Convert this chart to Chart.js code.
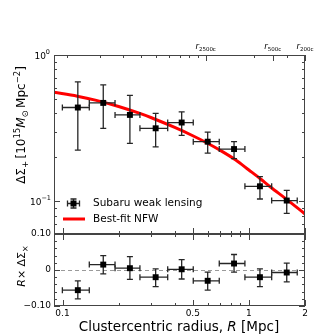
<!DOCTYPE html>
<html>
<head>
<meta charset="utf-8">
<script src="https://cdn.jsdelivr.net/npm/chart.js@4.4.1/dist/chart.umd.min.js"></script>
<style>
body { margin: 0; background: #fff; }
#wrap { position: relative; width: 329px; height: 336px; }
canvas { position: absolute; left: 0; top: 0; }
</style>
</head>
<body>
<div id="wrap">
  <canvas id="topChart" width="329" height="336"></canvas>
  <canvas id="botChart" width="329" height="336"></canvas>
</div>
<script>
// radial bins (Mpc)
var radius   = [0.1208, 0.1654, 0.2299, 0.3160, 0.4358, 0.6010, 0.8324, 1.146, 1.596];
var radiusLo = [0.0998, 0.1392, 0.1913, 0.2602, 0.3667, 0.5029, 0.6934, 0.952, 1.325];
var radiusHi = [0.1392, 0.1913, 0.2602, 0.3667, 0.5029, 0.6934, 0.952, 1.325, 1.817];

// tangential shear profile
var sigmaT   = [0.438, 0.471, 0.390, 0.316, 0.346, 0.256, 0.228, 0.127, 0.1015];
var sigmaTLo = [0.224, 0.316, 0.249, 0.236, 0.283, 0.214, 0.196, 0.104, 0.083];
var sigmaTHi = [0.656, 0.626, 0.530, 0.399, 0.409, 0.298, 0.256, 0.148, 0.119];

// cross shear (R x dSigma_x)
var sigmaX   = [-0.056, 0.015, 0.005, -0.020, 0.002, -0.030, 0.018, -0.020, -0.007];
var sigmaXLo = [-0.080, -0.011, -0.026, -0.046, -0.025, -0.056, -0.006, -0.046, -0.033];
var sigmaXHi = [-0.030, 0.040, 0.037, 0.003, 0.029, -0.006, 0.043, 0.003, 0.019];

// best-fit NFW curve
var nfwR     = [0.09, 0.12, 0.15, 0.2, 0.26, 0.3, 0.4, 0.5, 0.6, 0.7, 0.85, 1.0, 1.15, 1.3, 1.6, 2.0];
var nfwSigma = [0.556, 0.523, 0.492, 0.445, 0.399, 0.373, 0.320, 0.281, 0.250, 0.224, 0.192, 0.164, 0.143, 0.126, 0.103, 0.0822];

// axes
var xTicks = [0.1, 0.5, 1, 2];
var xTickLabels = ['0.1', '0.5', '1', '2'];
var xMinor = [0.2, 0.3, 0.4, 0.6, 0.7, 0.8, 0.9];
var topMinor = [0.106, 0.159, 0.212, 0.265, 0.318, 0.371, 0.425, 0.478, 0.531, 1.062, 1.593];
var rDelta = [0.586, 1.341, 2.0];
var rDeltaLabels = ['2500c', '500c', '200c'];
var yMinorTop = [0.06, 0.07, 0.08, 0.09, 0.2, 0.3, 0.4, 0.5, 0.6, 0.7, 0.8, 0.9];
var yMinorBot = [-0.08, -0.06, -0.04, -0.02, 0.02, 0.04, 0.06, 0.08];

var FONT = '"DejaVu Sans"';
var frameColor = '#444';

function tickMarks(chart, axis, vals, len, sides) {
    var ctx = chart.ctx, a = chart.chartArea, s = chart.scales[axis];
    ctx.beginPath();
    vals.forEach(function (v) {
        var p = Math.round(s.getPixelForValue(v)) + 0.5;
        if (axis === 'x') {
            if (sides.indexOf('b') >= 0) { ctx.moveTo(p, a.bottom); ctx.lineTo(p, a.bottom - len); }
            if (sides.indexOf('t') >= 0) { ctx.moveTo(p, a.top); ctx.lineTo(p, a.top + len); }
        } else {
            if (sides.indexOf('l') >= 0) { ctx.moveTo(a.left, p); ctx.lineTo(a.left + len, p); }
            if (sides.indexOf('r') >= 0) { ctx.moveTo(a.right, p); ctx.lineTo(a.right - len, p); }
        }
    });
    ctx.stroke();
}

function frame(chart) {
    var ctx = chart.ctx, a = chart.chartArea;
    ctx.strokeStyle = frameColor;
    ctx.lineWidth = 1;
    ctx.strokeRect(a.left + 0.5, a.top + 0.5, a.right - a.left - 1, a.bottom - a.top - 1);
}

// parts: [text, size, dy, italic]
function drawRich(ctx, parts, x, y, align) {
    var w = 0;
    parts.forEach(function (p) {
        ctx.font = (p[3] ? 'italic ' : '') + p[1] + 'px ' + FONT;
        p.w = ctx.measureText(p[0]).width;
        w += p.w;
    });
    var cx = align === 'right' ? x - w : (align === 'center' ? x - w / 2 : x);
    ctx.textAlign = 'left';
    parts.forEach(function (p) {
        ctx.font = (p[3] ? 'italic ' : '') + p[1] + 'px ' + FONT;
        ctx.fillText(p[0], cx, y + p[2]);
        cx += p.w;
    });
}

function errorBars(chart, xs, ys, xlo, xhi, ylo, yhi) {
    var ctx = chart.ctx, sx = chart.scales.x, sy = chart.scales.y;
    ctx.save();
    ctx.lineWidth = 1.3;
    ctx.strokeStyle = '#262626';
    for (var i = 0; i < xs.length; i++) {
        var px = sx.getPixelForValue(xs[i]), py = sy.getPixelForValue(ys[i]);
        var x0 = sx.getPixelForValue(xlo[i]), x1 = sx.getPixelForValue(xhi[i]);
        var y0 = sy.getPixelForValue(ylo[i]), y1 = sy.getPixelForValue(yhi[i]);
        ctx.beginPath();
        ctx.moveTo(x0, py); ctx.lineTo(x1, py);
        ctx.moveTo(x0, py - 3); ctx.lineTo(x0, py + 3);
        ctx.moveTo(x1, py - 3); ctx.lineTo(x1, py + 3);
        ctx.moveTo(px, y0); ctx.lineTo(px, y1);
        ctx.moveTo(px - 3, y0); ctx.lineTo(px + 3, y0);
        ctx.moveTo(px - 3, y1); ctx.lineTo(px + 3, y1);
        ctx.stroke();
    }
    ctx.restore();
}

var topDeco = {
    id: 'topDeco',
    afterDatasetDraw: function (chart, args) {
        if (args.index === 1) errorBars(chart, radius, sigmaT, radiusLo, radiusHi, sigmaTLo, sigmaTHi);
    },
    afterDraw: function (chart) {
        var ctx = chart.ctx, a = chart.chartArea, sx = chart.scales.x, sy = chart.scales.y;
        ctx.save();
        frame(chart);
        tickMarks(chart, 'x', xTicks, 6, 'b');
        tickMarks(chart, 'x', xMinor, 3, 'b');
        tickMarks(chart, 'x', rDelta, 6, 't');
        tickMarks(chart, 'x', topMinor, 3, 't');
        tickMarks(chart, 'y', [1, 0.1], 6, 'lr');
        tickMarks(chart, 'y', yMinorTop, 3, 'lr');

        ctx.fillStyle = '#000';
        ctx.textBaseline = 'alphabetic';
        // y tick labels
        drawRich(ctx, [['10', 9, 0], ['0', 6.5, -5]], 50, sy.getPixelForValue(1) + 3.5, 'right');
        drawRich(ctx, [['10', 9, 0], ['\u22121', 6.5, -5]], 51, sy.getPixelForValue(0.1) + 3.5, 'right');

        // overdensity radii on top axis
        rDelta.forEach(function (v, i) {
            drawRich(ctx, [['r', 8.5, 0, true], [rDeltaLabels[i], 5.5, 1.5]], sx.getPixelForValue(v), 49, 'center');
        });

        // y title
        ctx.save();
        ctx.translate(21, 125);
        ctx.rotate(-Math.PI / 2);
        drawRich(ctx, [['\u0394\u03a3', 12, 0], ['+', 8.5, 3], ['\u2009[10', 12, 0], ['15', 8.5, -5],
            ['M', 12, 0, true], ['\u2299', 8.5, 3], ['\u2009Mpc', 12, 0], ['\u22122', 8.5, -5], [']', 12, 0]], 0, 4, 'center');
        ctx.restore();

        // legend
        var lx = 73.5, ly = 203.5;
        ctx.strokeStyle = '#262626';
        ctx.lineWidth = 1.3;
        ctx.beginPath();
        ctx.moveTo(lx - 6, ly); ctx.lineTo(lx + 6, ly);
        ctx.moveTo(lx - 6, ly - 3); ctx.lineTo(lx - 6, ly + 3);
        ctx.moveTo(lx + 6, ly - 3); ctx.lineTo(lx + 6, ly + 3);
        ctx.moveTo(lx, ly - 4.5); ctx.lineTo(lx, ly + 4.5);
        ctx.moveTo(lx - 3, ly - 4.5); ctx.lineTo(lx + 3, ly - 4.5);
        ctx.moveTo(lx - 3, ly + 4.5); ctx.lineTo(lx + 3, ly + 4.5);
        ctx.stroke();
        ctx.fillStyle = '#000';
        ctx.fillRect(lx - 3, ly - 3, 6, 6);
        ctx.strokeStyle = '#ff0000';
        ctx.lineWidth = 3;
        ctx.beginPath();
        ctx.moveTo(63, 219); ctx.lineTo(85, 219);
        ctx.stroke();
        ctx.fillStyle = '#000';
        ctx.font = '10.5px ' + FONT;
        ctx.textAlign = 'left';
        ctx.textBaseline = 'middle';
        ctx.fillText('Subaru weak lensing', 93, 203);
        ctx.fillText('Best-fit NFW', 93, 219);
        ctx.restore();
    }
};

var botDeco = {
    id: 'botDeco',
    beforeDatasetsDraw: function (chart) {
        var ctx = chart.ctx, a = chart.chartArea, sy = chart.scales.y;
        var y0 = Math.round(sy.getPixelForValue(0)) + 0.5;
        ctx.save();
        ctx.strokeStyle = '#9a9a9a';
        ctx.lineWidth = 1;
        ctx.setLineDash([4, 3]);
        ctx.beginPath();
        ctx.moveTo(a.left, y0); ctx.lineTo(a.right, y0);
        ctx.stroke();
        ctx.restore();
        errorBars(chart, radius, sigmaX, radiusLo, radiusHi, sigmaXLo, sigmaXHi);
    },
    afterDraw: function (chart) {
        var ctx = chart.ctx, a = chart.chartArea, sx = chart.scales.x, sy = chart.scales.y;
        ctx.save();
        frame(chart);
        tickMarks(chart, 'x', xTicks, 6, 'bt');
        tickMarks(chart, 'x', xMinor, 3, 'bt');
        tickMarks(chart, 'y', [-0.1, 0, 0.1], 6, 'lr');
        tickMarks(chart, 'y', yMinorBot, 3, 'lr');

        ctx.fillStyle = '#000';
        ctx.font = '9px ' + FONT;
        ctx.textBaseline = 'middle';
        ctx.textAlign = 'right';
        ctx.fillText('0.10', 51, sy.getPixelForValue(0.1));
        ctx.fillText('0', 51, sy.getPixelForValue(0));
        ctx.fillText('\u22120.10', 51, sy.getPixelForValue(-0.1));

        ctx.textAlign = 'center';
        ctx.textBaseline = 'top';
        xTicks.forEach(function (v, i) {
            ctx.fillText(xTickLabels[i], sx.getPixelForValue(v), a.bottom + 3);
        });

        // x title
        ctx.textBaseline = 'alphabetic';
        drawRich(ctx, [['Clustercentric radius, ', 13.5, 0], ['R', 13.5, 0, true], [' [Mpc]', 13.5, 0]], 179, 331, 'center');

        // y title
        ctx.save();
        ctx.translate(21, 266);
        ctx.rotate(-Math.PI / 2);
        drawRich(ctx, [['R', 11, 0, true], ['\u00d7 \u0394\u03a3', 11, 0], ['\u00d7', 8, 3]], 0, 4, 'center');
        ctx.restore();
        ctx.restore();
    }
};

var topChart = new Chart(document.getElementById('topChart'), {
    type: 'scatter',
    data: {
        datasets: [{
            label: 'Subaru weak lensing',
            data: radius.map(function (r, i) { return { x: r, y: sigmaT[i] }; }),
            pointStyle: 'rect',
            pointRadius: 4.2,
            backgroundColor: '#000',
            borderColor: '#000',
            borderWidth: 0,
            order: 1
        }, {
            label: 'Best-fit NFW',
            type: 'line',
            data: nfwR.map(function (r, i) { return { x: r, y: nfwSigma[i] }; }),
            borderColor: '#ff0000',
            borderWidth: 3,
            pointRadius: 0,
            cubicInterpolationMode: 'monotone',
            fill: false,
            order: 2
        }]
    },
    options: {
        responsive: false,
        animation: false,
        devicePixelRatio: 1,
        layout: { padding: { left: 54, right: 24, top: 55, bottom: 102 } },
        plugins: { legend: { display: false }, tooltip: { enabled: false } },
        scales: {
            x: { type: 'logarithmic', min: 0.09, max: 2, display: false },
            y: { type: 'logarithmic', min: 0.06, max: 1, display: false }
        }
    },
    plugins: [topDeco]
});

var botChart = new Chart(document.getElementById('botChart'), {
    type: 'scatter',
    data: {
        datasets: [{
            label: 'cross',
            data: radius.map(function (r, i) { return { x: r, y: sigmaX[i] }; }),
            pointStyle: 'rect',
            pointRadius: 4.2,
            backgroundColor: '#000',
            borderColor: '#000',
            borderWidth: 0
        }]
    },
    options: {
        responsive: false,
        animation: false,
        devicePixelRatio: 1,
        layout: { padding: { left: 54, right: 24, top: 234, bottom: 30 } },
        plugins: { legend: { display: false }, tooltip: { enabled: false } },
        scales: {
            x: { type: 'logarithmic', min: 0.09, max: 2, display: false },
            y: { type: 'linear', min: -0.1, max: 0.1, display: false }
        }
    },
    plugins: [botDeco]
});
</script>
</body>
</html>
